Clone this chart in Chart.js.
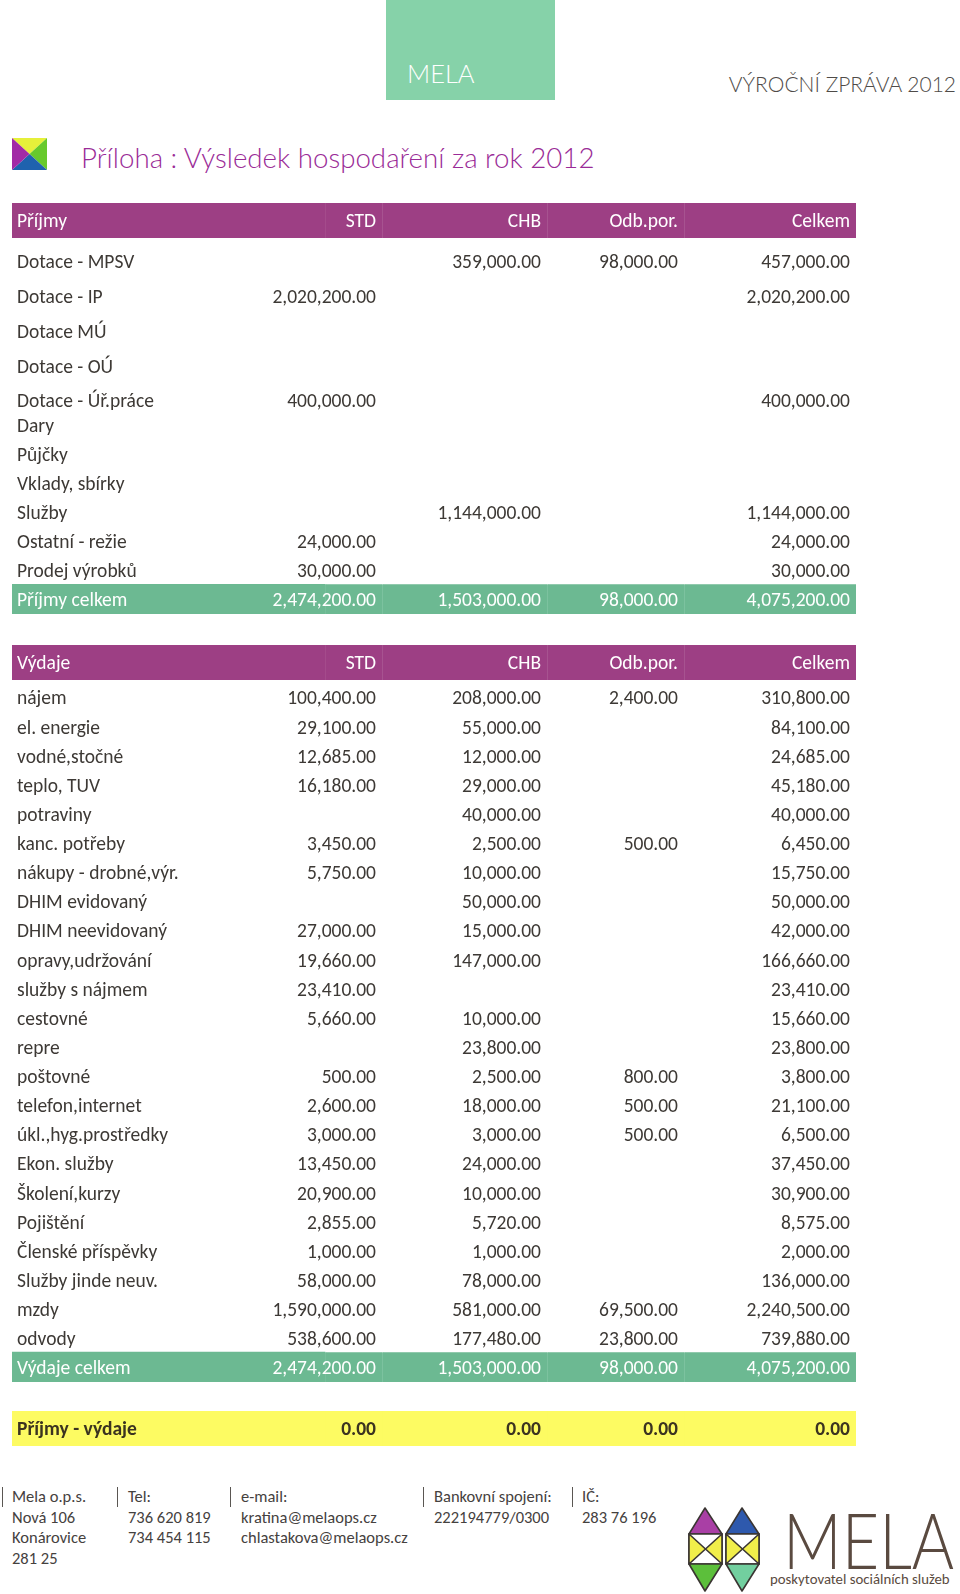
<!DOCTYPE html>
<html lang="cs">
<head>
<meta charset="utf-8">
<title>Výsledek hospodaření za rok 2012</title>
<script src="https://cdn.jsdelivr.net/npm/chart.js@4.4.0/dist/chart.umd.min.js"></script>
<style>
  html, body { margin: 0; padding: 0; background: #fff; }
  body { position: relative; width: 960px; height: 1594px; overflow: hidden;
         font-family: Carlito, Lato, sans-serif; color: #3d3935; }
  .abs { position: absolute; }
  .tbl { position: absolute; left: 12px; width: 844px; }
  .light { font-family: "Lato Light", Carlito, Lato, sans-serif; font-weight: 300; }
  #brand { left: 386px; top: 0; width: 169px; height: 100px; background: #86d2a9; }
  #brand span { position: absolute; left: 21px; top: 58px; color: #fff; font-size: 25.5px; line-height: 30px; }
  #report { right: 4px; top: 70px; font-size: 21px; color: #4f4b48; line-height: 28px; }
  #title { left: 81px; top: 140px; font-size: 27.7px; color: #9a2b97; line-height: 36px; }
  .foot { top: 1486px; font-size: 16.5px; line-height: 20.5px; color: #45413e; white-space: nowrap; }
  .bar { top: 1487px; width: 1px; height: 20px; background: #5a5652; }
  #mela { left: 783px; top: 1502px; font-size: 76px; color: #5a4a40; line-height: 76px;
          transform: scaleX(0.85); transform-origin: left top; }
  #mela-sub { left: 770px; top: 1570px; font-size: 14.8px; color: #5a4a40; line-height: 18px; }
</style>
</head>
<body>
<div id="brand" class="abs"><span class="light">MELA</span></div>
<div id="report" class="abs light">VÝROČNÍ ZPRÁVA 2012</div>

<svg class="abs" style="left:12px;top:138px" width="35" height="32" viewBox="0 0 35 32">
  <polygon points="0,0 35,0 17.5,16" fill="#e6f03a"/>
  <polygon points="35,0 35,32 17.5,16" fill="#67c92c"/>
  <polygon points="0,32 35,32 17.5,16" fill="#1f62ae"/>
  <polygon points="0,0 0,32 17.5,16" fill="#a22aa6"/>
</svg>
<div id="title" class="abs light">Příloha : Výsledek hospodaření za rok 2012</div>

<div class="tbl" style="top:203px;height:35px"><canvas id="incomeHead"></canvas></div>
<div class="tbl" style="top:244px;height:174px"><canvas id="incomeTop"></canvas></div>
<div class="tbl" style="top:411px;height:203px"><canvas id="incomeBottom"></canvas></div>
<div class="tbl" style="top:645px;height:35px"><canvas id="expenseHead"></canvas></div>
<div class="tbl" style="top:683px;height:699px"><canvas id="expense"></canvas></div>
<div class="tbl" style="top:1411px;height:35px"><canvas id="balance"></canvas></div>

<div class="abs bar" style="left:2px"></div>
<div class="abs foot" style="left:12px">Mela o.p.s.<br>Nová 106<br>Konárovice<br>281 25</div>
<div class="abs bar" style="left:117px"></div>
<div class="abs foot" style="left:128px">Tel:<br>736 620 819<br>734 454 115</div>
<div class="abs bar" style="left:230px"></div>
<div class="abs foot" style="left:241px">e-mail:<br>kratina@melaops.cz<br>chlastakova@melaops.cz</div>
<div class="abs bar" style="left:423px"></div>
<div class="abs foot" style="left:434px">Bankovní spojení:<br>222194779/0300</div>
<div class="abs bar" style="left:572px"></div>
<div class="abs foot" style="left:582px">IČ:<br>283 76 196</div>

<svg class="abs" style="left:687px;top:1505px" width="74" height="88" viewBox="0 0 74 88">
  <g stroke="#3a3532" stroke-width="1.6" stroke-linejoin="round">
    <polygon points="2,29 18,3 35,29" fill="#a93fa5"/>
    <polygon points="39,29 55,3 72,29" fill="#2e59ad"/>
    <rect x="2" y="29" width="33" height="30" fill="#fff"/>
    <rect x="39" y="29" width="33" height="30" fill="#fff"/>
    <polygon points="2,29 18.5,44 2,59" fill="#f1ee4a"/>
    <polygon points="35,29 18.5,44 35,59" fill="#f1ee4a"/>
    <polygon points="39,29 55.5,44 39,59" fill="#f1ee4a"/>
    <polygon points="72,29 55.5,44 72,59" fill="#f1ee4a"/>
    <polygon points="2,59 35,59 18,86" fill="#5cbf3b"/>
    <polygon points="39,59 72,59 55,86" fill="#72cf9f"/>
  </g>
</svg>
<div id="mela" class="abs light">MELA</div>
<div id="mela-sub" class="abs">poskytovatel sociálních služeb</div>

<script>
// ---- data ----
const columns = ['STD', 'CHB', 'Odb.por.', 'Celkem'];

const incomeLabels = ['Dotace - MPSV', 'Dotace - IP', 'Dotace MÚ', 'Dotace - OÚ', 'Dotace - Úř.práce',
  'Dary', 'Půjčky', 'Vklady, sbírky', 'Služby', 'Ostatní - režie', 'Prodej výrobků'];
const incomeSTD   = [null, 2020200, null, null, 400000, null, null, null, null, 24000, 30000];
const incomeCHB   = [359000, null, null, null, null, null, null, null, 1144000, null, null];
const incomeOdb   = [98000, null, null, null, null, null, null, null, null, null, null];
const incomeTotal = [457000, 2020200, null, null, 400000, null, null, null, 1144000, 24000, 30000];
const incomeSum   = [2474200, 1503000, 98000, 4075200];

const expenseLabels = ['nájem', 'el. energie', 'vodné,stočné', 'teplo, TUV', 'potraviny', 'kanc. potřeby',
  'nákupy - drobné,výr.', 'DHIM evidovaný', 'DHIM neevidovaný', 'opravy,udržování', 'služby s nájmem',
  'cestovné', 'repre', 'poštovné', 'telefon,internet', 'úkl.,hyg.prostředky', 'Ekon. služby',
  'Školení,kurzy', 'Pojištění', 'Členské příspěvky', 'Služby jinde neuv.', 'mzdy', 'odvody'];
const expenseSTD = [100400, 29100, 12685, 16180, null, 3450, 5750, null, 27000, 19660, 23410,
  5660, null, 500, 2600, 3000, 13450, 20900, 2855, 1000, 58000, 1590000, 538600];
const expenseCHB = [208000, 55000, 12000, 29000, 40000, 2500, 10000, 50000, 15000, 147000, null,
  10000, 23800, 2500, 18000, 3000, 24000, 10000, 5720, 1000, 78000, 581000, 177480];
const expenseOdb = [2400, null, null, null, null, 500, null, null, null, null, null,
  null, null, 800, 500, 500, null, null, null, null, null, 69500, 23800];
const expenseTotal = [310800, 84100, 24685, 45180, 40000, 6450, 15750, 50000, 42000, 166660, 23410,
  15660, 23800, 3800, 21100, 6500, 37450, 30900, 8575, 2000, 136000, 2240500, 739880];
const expenseSum = [2474200, 1503000, 98000, 4075200];

const balance = [0, 0, 0, 0];

// ---- look ----
const FONT = 'Carlito, Lato, sans-serif';
const FONT_SIZE = 19.5;
const TEXT_DY = 2;
const INK = { row: '#3d3935', head: '#ffffff', total: '#ffffff', balance: '#3b3320' };
const BAND = { head: '#9d3f84', total: '#6cb992', balance: '#fdfb62' };
const SEP = { head: '#ad5e97', total: '#85c6a5', balance: '#fdfb62' };
const BAND_H = { head: 35, total: 30.5, balance: 35 };
// column grid of the table, in px from its left edge
const colEdges = [0, 313, 370, 535, 672, 844];
const CELL_PAD = 6;

const fmt = v => v.toLocaleString('en-US', { minimumFractionDigits: 2, maximumFractionDigits: 2 });

const rowsOf = (labels, cols, from, to) =>
  labels.slice(from, to).map((label, k) => ({
    label, kind: 'row', cells: cols.map(c => c[from + k])
  }));

// numbers in the value columns, placed through the chart's x/y scales
const cellText = {
  id: 'cellText',
  afterDatasetsDraw(chart, args, opts) {
    const { ctx, scales: { x, y } } = chart;
    ctx.save();
    ctx.textAlign = 'right';
    ctx.textBaseline = 'middle';
    opts.rows.forEach((row, i) => {
      ctx.fillStyle = INK[row.kind];
      ctx.font = (row.kind === 'balance' ? 'bold ' : '') + FONT_SIZE + 'px ' + FONT;
      row.cells.forEach((v, c) => {
        if (v === null || v === undefined) return;
        const txt = typeof v === 'number' ? fmt(v) : v;
        ctx.fillText(txt, x.getPixelForValue(colEdges[c + 2]) - CELL_PAD, y.getPixelForValue(i) + TEXT_DY);
      });
    });
    ctx.restore();
  }
};

function tableChart(id, rows) {
  const kinds = rows.map(r => r.kind);
  const datasets = [];
  ['head', 'total', 'balance'].forEach(kind => {
    if (!kinds.includes(kind)) return;
    for (let s = 0; s < colEdges.length - 1; s++) {
      datasets.push({
        data: rows.map(r => r.kind === kind ? [colEdges[s], colEdges[s + 1]] : null),
        backgroundColor: BAND[kind],
        borderColor: SEP[kind],
        borderWidth: { left: s > 0 ? 1 : 0, top: 0, right: 0, bottom: 0 },
        borderSkipped: false,
        barThickness: BAND_H[kind],
        grouped: false,
        clip: false
      });
    }
  });
  return new Chart(document.getElementById(id), {
    type: 'bar',
    data: { labels: rows.map(r => r.label), datasets },
    options: {
      indexAxis: 'y',
      responsive: true,
      maintainAspectRatio: false,
      animation: false,
      events: [],
      layout: { padding: 0 },
      plugins: { legend: { display: false }, tooltip: { enabled: false }, cellText: { rows } },
      scales: {
        x: { type: 'linear', display: false, min: 0, max: colEdges[colEdges.length - 1] },
        y: {
          type: 'category',
          offset: true,
          grid: { display: false, drawTicks: false },
          border: { display: false },
          afterFit: s => { s.width = 0; s.paddingTop = 0; s.paddingBottom = 0; },
          ticks: {
            z: 1,
            mirror: true,
            padding: 5,
            labelOffset: TEXT_DY,
            autoSkip: false,
            color: c => INK[kinds[c.index]],
            font: c => ({ family: FONT, size: FONT_SIZE, weight: kinds[c.index] === 'balance' ? 'bold' : 'normal' })
          }
        }
      }
    },
    plugins: [cellText]
  });
}

const incomeCols = [incomeSTD, incomeCHB, incomeOdb, incomeTotal];
const expenseCols = [expenseSTD, expenseCHB, expenseOdb, expenseTotal];

tableChart('incomeHead', [{ label: 'Příjmy', kind: 'head', cells: columns }]);
tableChart('incomeTop', rowsOf(incomeLabels, incomeCols, 0, 5));
tableChart('incomeBottom', rowsOf(incomeLabels, incomeCols, 5)
  .concat([{ label: 'Příjmy celkem', kind: 'total', cells: incomeSum }]));
tableChart('expenseHead', [{ label: 'Výdaje', kind: 'head', cells: columns }]);
tableChart('expense', rowsOf(expenseLabels, expenseCols, 0)
  .concat([{ label: 'Výdaje celkem', kind: 'total', cells: expenseSum }]));
tableChart('balance', [{ label: 'Příjmy - výdaje', kind: 'balance', cells: balance }]);
</script>
</body>
</html>
